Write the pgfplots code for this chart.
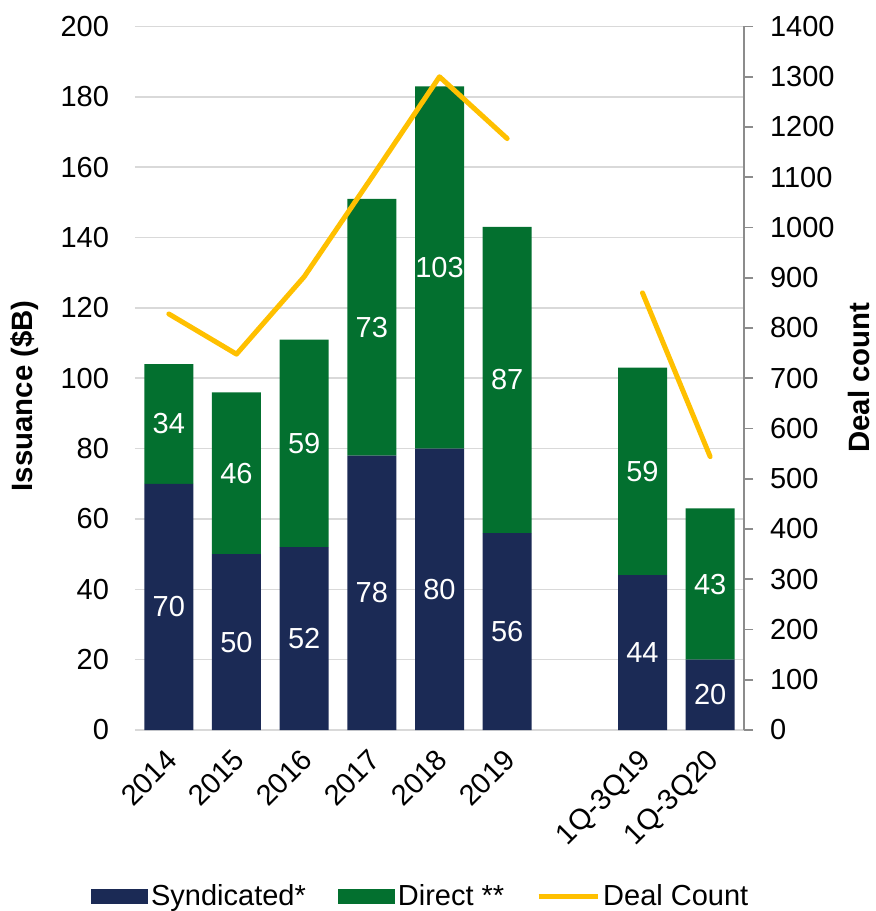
\documentclass[border=0pt]{standalone}
\usepackage{pgfplots}
\pgfplotsset{compat=1.18}
\usepackage{pgfplotstable}
\usepackage{fontspec}
\setmainfont{Liberation Sans}
\definecolor{navy}{HTML}{1B2A55}
\definecolor{dgreen}{HTML}{03702F}
\definecolor{gold}{HTML}{FFC000}
\definecolor{gridc}{HTML}{D9D9D9}
\definecolor{axc}{HTML}{8C8C8C}

\pgfplotstableread{
x  synd  direct
0  70    34
1  50    46
2  52    59
3  78    73
4  80    103
5  56    87
7  44    59
8  20    43
}\bars

\pgfplotstableread{
x  y     lab
0  35    70
0  87    34
1  25    50
1  73    46
2  26    52
2  81.5  59
3  39    78
3  114.5 73
4  40    80
4  131.5 103
5  28    56
5  99.5  87
7  22    44
7  73.5  59
8  10    20
8  41.5  43
}\labels

\pgfplotstableread{
x  deals
0  828
1  748
2  902
3  1100
4  1300
5  1177
}\dealsA

\pgfplotstableread{
x  deals
7  870
8  544
}\dealsB

\begin{document}
\fontsize{14.5}{17}\selectfont
\begin{tikzpicture}
\pgfplotsset{
  common/.style={
    scale only axis,
    width=304.5pt, height=351.75pt,
    xmin=-0.5, xmax=8.5,
    /pgf/number format/assume math mode=true,
    /pgf/number format/1000 sep={},
    tick label style={font=\fontsize{14.5}{17}\selectfont},
    label style={font=\fontsize{14.7}{17}\selectfont\bfseries},
  }
}
\begin{axis}[
  common,
  ybar stacked,
  bar width=24.5pt,
  ymin=0, ymax=200,
  ytick={0,20,...,200},
  axis y line*=left,
  axis x line*=bottom,
  y axis line style={draw=none},
  x axis line style={draw=gridc, line width=0.8pt},
  xtick={0,1,2,3,4,5,7,8},
  xticklabels={2014,2015,2016,2017,2018,2019,1Q-3Q19,1Q-3Q20},
  xtick style={draw=none},
  ytick style={draw=none},
  xticklabel style={xshift=-2.25pt, yshift=-8.5pt, rotate=45, anchor=north east, inner sep=0pt},
  yticklabel style={xshift=-8pt},
  ymajorgrids,
  grid style={gridc, line width=0.8pt},
  ylabel={Issuance (\$B)},
  ylabel style={at={(axis description cs:-0.181,0.475)}, anchor=center, rotate=0},
  legend columns=3,
  legend style={draw=none, fill=none, at={(0.47,-0.237)}, anchor=center,
    font=\fontsize{14.5}{17}\selectfont,
    nodes={inner sep=1.5pt},
    /tikz/every odd column/.append style={column sep=0pt},
    /tikz/every even column/.append style={column sep=14.5pt}},
  legend image code/.code={\fill[#1] (0pt,-3.75pt) rectangle (28.5pt,3.75pt);},
  legend cell align=left,
]
\addplot[fill=navy, draw=none] table[x=x, y=synd] {\bars};
\addlegendentry{Syndicated*}
\addplot[fill=dgreen, draw=none] table[x=x, y=direct] {\bars};
\addlegendentry{Direct **}
\addlegendimage{legend image code/.code={\draw[gold, line width=2.5pt] (0pt,0pt) -- (29.5pt,0pt);}}
\addlegendentry{Deal Count}
\end{axis}

\begin{axis}[
  common,
  ymin=0, ymax=200,
  hide axis,
]
\addplot[only marks, mark=none, nodes near coords, point meta=explicit symbolic,
  nodes near coords style={text=white, anchor=center, font=\fontsize{14.5}{17}\selectfont}]
  table[x=x, y=y, meta=lab] {\labels};
\end{axis}

\begin{axis}[
  common,
  ymin=0, ymax=1400,
  ytick={0,100,...,1400},
  axis y line*=right,
  axis x line=none,
  y axis line style={draw=axc, line width=0.8pt},
  ytick style={draw=axc, line width=0.8pt},
  tick align=outside,
  major tick length=4.5pt,
  yticklabel style={xshift=3.5pt},
  ylabel={Deal count},
  ylabel style={at={(axis description cs:1.189,0.501)}, anchor=center, rotate=0},
]
\addplot[gold, line width=2.5pt, line join=round, line cap=round] table[x=x, y=deals] {\dealsA};
\addplot[gold, line width=2.5pt, line join=round, line cap=round] table[x=x, y=deals] {\dealsB};
\end{axis}
\pgfresetboundingbox
\path (-67.5pt,-90.5pt) rectangle (370pt,365pt);
\end{tikzpicture}
\end{document}
